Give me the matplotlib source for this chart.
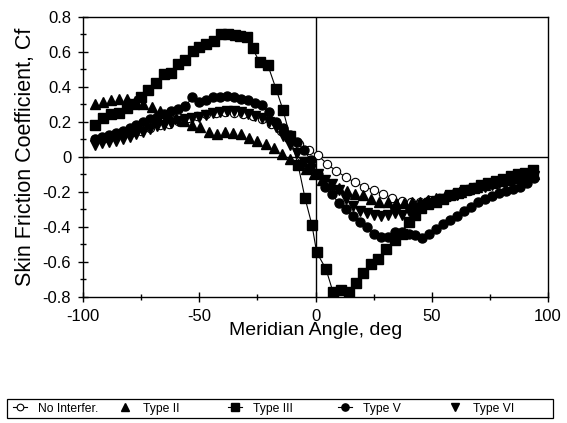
import matplotlib
matplotlib.use("Agg")
import matplotlib.pyplot as plt
from matplotlib.patches import Rectangle
from matplotlib.ticker import MultipleLocator, FuncFormatter

plt.rcParams['font.family'] = ['Liberation Sans', 'DejaVu Sans']
plt.rcParams['axes.unicode_minus'] = False

# No Interfer. (open circles, line)
x_none = [-95, -91, -87, -83, -79, -75, -71, -67, -63, -59, -55, -51, -47, -43, -39, -35,
          -31, -27, -23, -19, -15, -11, -7, -3, 1, 5, 9, 13, 17, 21, 25, 29, 33, 37, 41, 45,
          49, 53, 57, 61, 65, 69, 73, 77, 81, 85, 89, 93]
y_none = [0.10, 0.11, 0.12, 0.13, 0.14, 0.15, 0.165, 0.18, 0.19, 0.205, 0.22, 0.235, 0.245,
          0.25, 0.255, 0.25, 0.245, 0.235, 0.215, 0.19, 0.15, 0.11, 0.075, 0.04, 0.01, -0.04,
          -0.08, -0.115, -0.145, -0.17, -0.19, -0.21, -0.235, -0.25, -0.26, -0.255, -0.245,
          -0.235, -0.22, -0.205, -0.19, -0.175, -0.16, -0.145, -0.13, -0.12, -0.11, -0.10]

# Type II (up triangles)
x_t2 = [-95, -91.5, -88, -84.5, -81, -77.5, -74, -70.5, -67, -63.5, -60, -56.5, -53, -49.5,
        -46, -42.5, -39, -35.5, -32, -28.5, -25, -21.5, -18, -14.5, -11, -7.5, -4, -0.5, 3,
        6.5, 10, 13.5, 17, 20.5, 24, 27.5, 31, 34.5, 38, 41.5, 45, 48.5, 52, 55.5, 59, 62.5,
        66, 69.5, 73, 76.5, 80, 83.5, 87, 90.5, 94]
y_t2 = [0.30, 0.315, 0.325, 0.333, 0.33, 0.32, 0.30, 0.285, 0.265, 0.245, 0.225, 0.205,
        0.185, 0.17, 0.14, 0.13, 0.145, 0.135, 0.13, 0.11, 0.09, 0.075, 0.05, 0.015, -0.01,
        -0.04, -0.07, -0.10, -0.13, -0.155, -0.18, -0.195, -0.21, -0.22, -0.24, -0.255,
        -0.26, -0.265, -0.265, -0.26, -0.255, -0.245, -0.235, -0.225, -0.21, -0.20, -0.185,
        -0.17, -0.16, -0.15, -0.14, -0.13, -0.12, -0.11, -0.10]

# Type III (squares, line)
x_t3 = [-95, -91.5, -88, -84.5, -81, -78, -75, -72, -68.5, -65, -62, -59, -56, -52.5, -50,
        -47, -43.5, -40.5, -37.5, -34.5, -32.5, -29.5, -27, -24, -20.5, -17, -14, -11, -7.5,
        -4.5, -1.5, 0.5, 4.5, 7.5, 11, 14.5, 17.5, 20.5, 24, 27, 30.5, 34, 37, 40, 42.7,
        45.5, 48.5, 52, 55, 58, 61.5, 64.5, 68, 71, 74, 77.5, 80.5, 84, 87, 90, 93.5]
y_t3 = [0.18, 0.22, 0.245, 0.25, 0.28, 0.30, 0.345, 0.385, 0.42, 0.475, 0.48, 0.53, 0.555,
        0.605, 0.63, 0.645, 0.665, 0.70, 0.70, 0.695, 0.69, 0.685, 0.62, 0.54, 0.525, 0.39,
        0.27, 0.12, -0.045, -0.235, -0.39, -0.545, -0.64, -0.77, -0.76, -0.77, -0.72, -0.665,
        -0.613, -0.583, -0.527, -0.476, -0.44, -0.37, -0.33, -0.29, -0.27, -0.255, -0.24,
        -0.22, -0.205, -0.19, -0.175, -0.16, -0.15, -0.135, -0.125, -0.11, -0.10, -0.09,
        -0.075]

# Type V (filled circles, line)
x_t5 = [-95, -92, -89, -86, -83, -80, -77, -74, -71, -68, -65, -62, -59, -56, -53, -50, -47,
        -44, -41, -38, -35, -32, -29, -26, -23, -20, -17, -14, -11, -8, -5, -2, 1, 4, 7, 10,
        13, 16, 19, 22, 25, 28, 31, 34, 37, 40, 43, 46, 49, 52, 55, 58, 61, 64, 67, 70, 73,
        76, 79, 82, 85, 88, 91, 94]
y_t5 = [0.10, 0.115, 0.125, 0.135, 0.15, 0.165, 0.18, 0.20, 0.215, 0.23, 0.245, 0.26,
        0.275, 0.29, 0.34, 0.315, 0.325, 0.34, 0.345, 0.35, 0.34, 0.33, 0.325, 0.31, 0.295,
        0.255, 0.20, 0.165, 0.125, 0.085, 0.04, -0.02, -0.10, -0.17, -0.21, -0.265, -0.30,
        -0.34, -0.37, -0.40, -0.44, -0.46, -0.455, -0.43, -0.43, -0.44, -0.445, -0.465,
        -0.44, -0.41, -0.385, -0.36, -0.335, -0.31, -0.285, -0.26, -0.24, -0.225, -0.205,
        -0.195, -0.185, -0.17, -0.15, -0.12]

# Type VI (down triangles)
x_t6 = [-95, -92, -89, -86, -83, -80, -77, -74, -71, -68, -65, -62, -59, -56, -53, -50, -47,
        -44, -41, -38, -35, -32, -29, -26, -23, -20, -17, -14, -11, -8, -5, -2, 1, 4, 7, 10,
        13, 16, 19, 22, 25, 28, 31, 34, 37, 40, 43, 46, 49, 52, 55, 58, 61, 64, 67, 70, 73,
        76, 79, 82, 85, 88, 91, 94]
y_t6 = [0.07, 0.08, 0.085, 0.09, 0.10, 0.115, 0.13, 0.145, 0.16, 0.175, 0.185, 0.195,
        0.205, 0.215, 0.22, 0.23, 0.24, 0.25, 0.255, 0.26, 0.26, 0.255, 0.245, 0.235, 0.22,
        0.20, 0.17, 0.12, 0.07, 0.02, -0.03, -0.07, -0.10, -0.13, -0.155, -0.19, -0.24,
        -0.28, -0.31, -0.32, -0.33, -0.335, -0.33, -0.32, -0.33, -0.31, -0.29, -0.275,
        -0.265, -0.25, -0.24, -0.225, -0.215, -0.20, -0.19, -0.18, -0.17, -0.16, -0.15,
        -0.14, -0.13, -0.12, -0.115, -0.11]

W, H = 567, 423
fig = plt.figure(figsize=(W / 100, H / 100), dpi=100)
ax = fig.add_axes([83 / W, 1 - 297 / H, 465 / W, 280 / H])

ax.axhline(0, color='black', lw=1.0, zorder=1)
ax.axvline(0, color='black', lw=1.0, zorder=1)

handles = []
handles += ax.plot(x_none, y_none, '-o', color='black', lw=0.8, ms=6, mfc='white', mec='black',
                   mew=0.8, label='No Interfer.', zorder=3)
handles += ax.plot(x_t2, y_t2, '^', color='black', ms=6.5, ls='none', label='Type II', zorder=3)
handles += ax.plot(x_t3, y_t3, '-s', color='black', lw=0.8, ms=6.5, label='Type III', zorder=3)
handles += ax.plot(x_t5, y_t5, '-o', color='black', lw=0.8, ms=6.5, label='Type V', zorder=3)
handles += ax.plot(x_t6, y_t6, 'v', color='black', ms=6.5, ls='none', label='Type VI', zorder=3)

ax.set_xlim(-100, 100)
ax.set_ylim(-0.8, 0.8)
ax.xaxis.set_major_locator(MultipleLocator(50))
ax.xaxis.set_minor_locator(MultipleLocator(25))
ax.yaxis.set_major_locator(MultipleLocator(0.2))
ax.yaxis.set_minor_locator(MultipleLocator(0.1))
ax.yaxis.set_major_formatter(FuncFormatter(lambda v, p: f"{v:g}" if abs(v) > 1e-9 else "0"))
ax.tick_params(which='both', direction='inout', labelsize=12, width=1, colors='black')
ax.tick_params(which='major', length=7)
ax.tick_params(which='minor', length=5)
ax.tick_params(axis='x', pad=5)
ax.tick_params(axis='y', pad=5)
for s in ax.spines.values():
    s.set_linewidth(1.0)

ax.set_xlabel('Meridian Angle, deg', fontsize=14, labelpad=-1)
ax.set_ylabel('Skin Friction Coefficient, Cf', fontsize=15.5, labelpad=5)

# legend: box plus evenly spaced entries
fig.add_artist(Rectangle((7 / W, 1 - 418 / H), 546 / W, 19 / H, transform=fig.transFigure,
                         fill=False, edgecolor='black', lw=0.9))
entry_left = [13, 118, 228, 338, 448]
for h, x0 in zip(handles, entry_left):
    fig.legend([h], [h.get_label()], loc='center left',
               bbox_to_anchor=(x0 / W, 1 - 408.5 / H), fontsize=8.7, frameon=False,
               handlelength=1.15, handletextpad=0.9, borderpad=0, borderaxespad=0,
               markerscale=0.8)

fig.savefig('out.png', dpi=100)
